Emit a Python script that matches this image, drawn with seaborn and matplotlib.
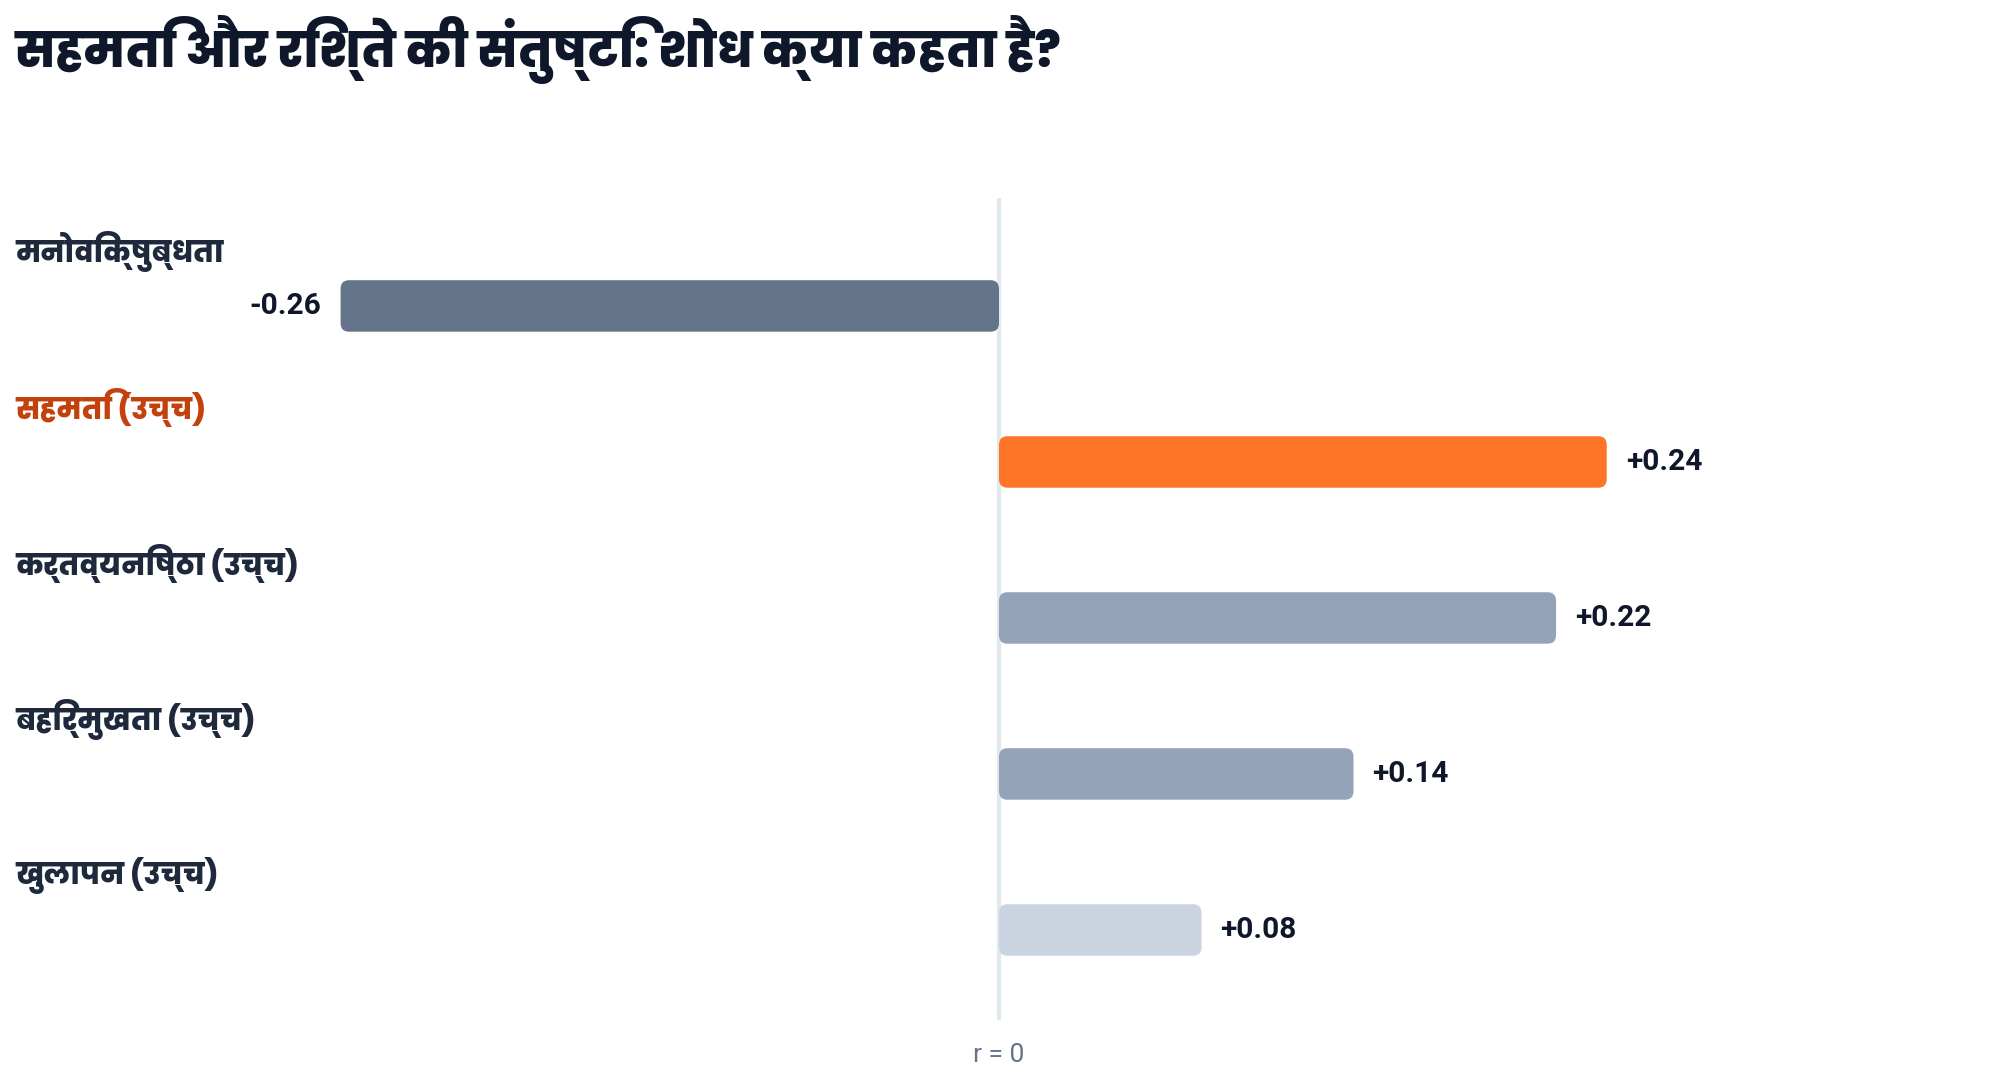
import matplotlib
matplotlib.use("Agg")
import matplotlib.pyplot as plt
import seaborn as sns
import pandas as pd
from matplotlib import font_manager as fm
from matplotlib.ft2font import FT2Font
from matplotlib.patches import FancyBboxPatch
import matplotlib.transforms as mtransforms
import os

# ---------------- data ----------------
title = "सहमति और रिश्ते की संतुष्टि: शोध क्या कहता है?"
categories = ["मनोविक्षुब्धता", "सहमति (उच्च)", "कर्तव्यनिष्ठा (उच्च)",
              "बहिर्मुखता (उच्च)", "खुलापन (उच्च)"]
values = [-0.26, 0.24, 0.22, 0.14, 0.08]
value_labels = ["-0.26", "+0.24", "+0.22", "+0.14", "+0.08"]
bar_colors = ["#64748b", "#ff7527", "#94a3b8", "#94a3b8", "#cbd5e1"]
label_colors = ["#1e293b", "#c2410c", "#1e293b", "#1e293b", "#1e293b"]
zero_label = "r = 0"

# ---------------- fonts ----------------
sns.set_theme(style="white")
cands = []
for f in fm.findSystemFonts():
    try:
        ft = FT2Font(f)
        if 0x0915 in ft.get_charmap():
            cands.append(f)
    except Exception:
        pass


def rank(path, order):
    name = os.path.basename(path).lower()
    cond = ("condensed" in name) or ("narrow" in name)
    for i, k in enumerate(order):
        if k in name:
            return (cond, i)
    return (cond, len(order))


label_fp = None
title_fp = None
if cands:
    tit_file = sorted(cands, key=lambda p: rank(p, ["extrabold", "-bold.", "bold", "black"]))[0]
    lab_file = sorted(cands, key=lambda p: rank(p, ["-bold.", "bold", "extrabold", "semibold"]))[0]
    label_fp = fm.FontProperties(fname=lab_file)
    title_fp = fm.FontProperties(fname=tit_file)
    fm.fontManager.addfont(lab_file)
    fam = fm.FontProperties(fname=lab_file).get_name()
    plt.rcParams["font.family"] = [fam, "Noto Sans", "DejaVu Sans"]
else:
    plt.rcParams["font.family"] = ["Noto Sans", "DejaVu Sans"]

df = pd.DataFrame({"cat": categories, "val": values})

fig = plt.figure(figsize=(20, 10.8), dpi=100)
ax = fig.add_axes([0, 1 - 1020 / 1080, 1, 822 / 1080])
sns.barplot(data=df, x="val", y="cat", hue="cat", palette=bar_colors,
            orient="h", width=0.33, legend=False, ax=ax, saturation=1)
ax.set_xlim(-0.3945, 0.3953)
ax.set_ylim(4.577, -0.692)

rx = 0.0033
ry = 0.055
for p in list(ax.patches):
    x0, y0 = p.get_x(), p.get_y()
    w, h = p.get_width(), p.get_height()
    if w < 0:
        x0, w = x0 + w, -w
    fb = FancyBboxPatch((x0, y0), w, h,
                        boxstyle=f"round,pad=0,rounding_size={rx}",
                        mutation_aspect=ry / rx,
                        facecolor=p.get_facecolor(), edgecolor="none", zorder=3)
    p.remove()
    ax.add_patch(fb)

ax.axvline(0, color="#e2e8f0", lw=3, zorder=1)

for s in ax.spines.values():
    s.set_visible(False)
ax.set_xticks([])
ax.set_yticks([])
ax.set_xlabel("")
ax.set_ylabel("")


def fp(base, size, weight="bold"):
    if base is None:
        return fm.FontProperties(size=size, weight=weight)
    q = base.copy()
    q.set_size(size)
    return q


blend = mtransforms.blended_transform_factory(ax.transAxes, ax.transData)
for i, (c, v, vl) in enumerate(zip(categories, values, value_labels)):
    ax.text(0.0075, i - 0.35, c, transform=blend, ha="left", va="center",
            fontproperties=fp(title_fp, 21), color=label_colors[i])
    off = 0.0075
    if v < 0:
        ax.text(v - off, i, vl, ha="right", va="center", fontsize=21.5,
                fontweight="bold", color="#0f172a", family=["Roboto", "DejaVu Sans"])
    else:
        ax.text(v + off, i, vl, ha="left", va="center", fontsize=21.5,
                fontweight="bold", color="#0f172a", family=["Roboto", "DejaVu Sans"])

fig.text(999 / 2000, 1 - 1055 / 1080, zero_label, ha="center", va="center",
         fontsize=19, color="#64748b", family=["Roboto", "DejaVu Sans"])

t = fig.text(15 / 2000, 1 - 50 / 1080, title, ha="left", va="center",
             fontproperties=fp(title_fp, 36), color="#0f172a")
fig.canvas.draw()
bb = t.get_window_extent()
target = 1063 - 15
scale = target / max(bb.width, 1)
scale = min(max(scale, 0.8), 1.5)
t.set_fontproperties(fp(title_fp, 36 * scale))

fig.savefig("out.png", dpi=100)
